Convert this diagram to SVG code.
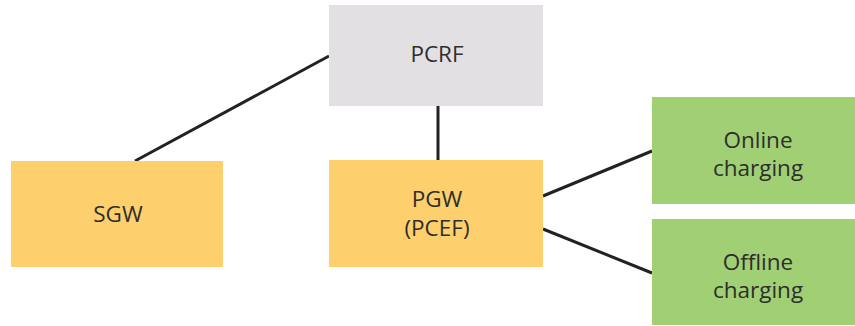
<svg xmlns="http://www.w3.org/2000/svg" width="855" height="326" viewBox="0 0 855 326">
  <style>
    .lbl { font-family: "Open Sans", "Noto Sans", "DejaVu Sans", sans-serif; font-size: 22.5px; fill: #2e2e2e; text-anchor: middle; }
    .gray { fill: #e2e0e3; }
    .yellow { fill: #fdd06d; }
    .green { fill: #a0cf74; }
    .link { stroke: #222222; stroke-width: 3; fill: none; }
  </style>
  <rect width="855" height="326" fill="#ffffff"/>
  <g id="connectors">
    <line class="link" x1="329" y1="56" x2="135" y2="161"/>
    <line class="link" x1="438" y1="106" x2="438" y2="161"/>
    <line class="link" x1="543" y1="196" x2="652" y2="151"/>
    <line class="link" x1="543" y1="229" x2="652" y2="273"/>
  </g>
  <g id="pcrf">
    <rect class="gray" x="329" y="5" width="214" height="101"/>
    <text class="lbl" x="437" y="62">PCRF</text>
  </g>
  <g id="sgw">
    <rect class="yellow" x="11" y="161" width="212" height="106"/>
    <text class="lbl" x="118" y="222">SGW</text>
  </g>
  <g id="pgw">
    <rect class="yellow" x="329" y="160" width="214" height="107"/>
    <text class="lbl" x="437" y="207">PGW</text>
    <text class="lbl" x="437" y="236">(PCEF)</text>
  </g>
  <g id="online">
    <rect class="green" x="652" y="97" width="203" height="107"/>
    <text class="lbl" x="758" y="148">Online</text>
    <text class="lbl" x="758" y="176">charging</text>
  </g>
  <g id="offline">
    <rect class="green" x="652" y="219" width="203" height="106"/>
    <text class="lbl" x="758" y="270">Offline</text>
    <text class="lbl" x="758" y="298">charging</text>
  </g>
</svg>
